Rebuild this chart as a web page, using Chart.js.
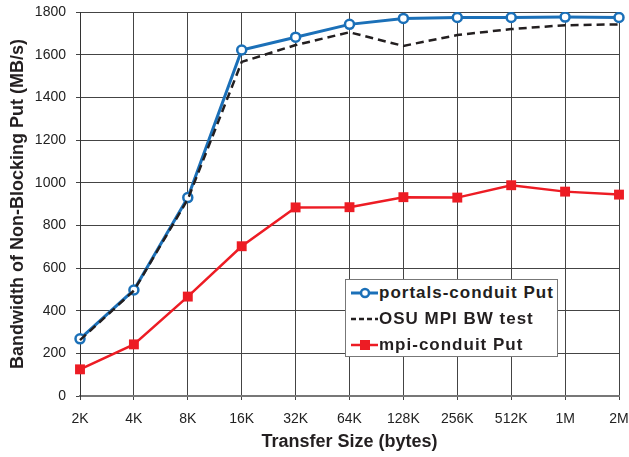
<!DOCTYPE html>
<html>
<head>
<meta charset="utf-8">
<script src="https://cdn.jsdelivr.net/npm/chart.js@4"></script>
<style>
  html, body { margin: 0; padding: 0; background: #fff; }
  #wrap { position: relative; width: 629px; height: 457px; }
  #legend {
    position: absolute; left: 345px; top: 279px; width: 211px; height: 76px;
    border: 1.5px solid #777; background: #fff;
    font: bold 17px "Liberation Sans", Arial, sans-serif; color: #231f20; letter-spacing: 1px;
  }
  .row { position: absolute; left: 4px; height: 26px; display: flex; align-items: center; white-space: nowrap; }
  .row svg { margin-right: 0; }
</style>
</head>
<body>
<div id="wrap">
  <canvas id="bwChart" width="629" height="457"></canvas>
  <div id="legend"></div>
</div>
<script>
// Transfer sizes (x categories)
const sizes = ['2K', '4K', '8K', '16K', '32K', '64K', '128K', '256K', '512K', '1M', '2M'];

// Bandwidth in MB/s
const portalsPut = [268, 497, 930, 1622, 1682, 1742, 1770, 1774, 1774, 1776, 1774];
const osuBw = [262, 494, 922, 1566, 1645, 1705, 1641, 1692, 1720, 1738, 1742];
const mpiPut = [125, 242, 466, 702, 884, 885, 932, 930, 988, 958, 944];

const yMin = 0;
const yMax = 1800;
const yStep = 200;

const BLUE = '#1b70b8';
const RED = '#ed1c24';
const BLACK = '#231f20';
const FONT = '"Liberation Sans", Arial, sans-serif';

const datasets = [
  {
    label: 'portals-conduit Put',
    data: portalsPut,
    borderColor: BLUE,
    borderWidth: 3,
    pointStyle: 'circle',
    pointRadius: 4.5,
    pointBorderWidth: 2.5,
    pointBackgroundColor: '#fff',
    pointBorderColor: BLUE,
    order: 1
  },
  {
    label: 'OSU MPI BW test',
    data: osuBw,
    borderColor: BLACK,
    borderWidth: 2.5,
    borderDash: [8, 5],
    pointRadius: 0,
    order: 0
  },
  {
    label: 'mpi-conduit Put',
    data: mpiPut,
    borderColor: RED,
    borderWidth: 2.5,
    pointStyle: 'rect',
    pointRadius: 7,
    pointBorderWidth: 0,
    pointBackgroundColor: RED,
    pointBorderColor: RED,
    order: 2
  }
];

function initChart() {
  const ctx = document.getElementById('bwChart').getContext('2d');
  return new Chart(ctx, {
    type: 'line',
    data: { labels: sizes, datasets: datasets },
    options: {
      responsive: false,
      animation: false,
      layout: { autoPadding: false, padding: { left: 0, right: 10, top: 12, bottom: 0 } },
      elements: { line: { tension: 0 } },
      plugins: { legend: { display: false }, tooltip: { enabled: false } },
      scales: {
        x: {
          type: 'category',
          offset: false,
          grid: { color: '#444', lineWidth: 1, tickLength: 4 },
          border: { color: '#777', width: 2 },
          ticks: { color: '#222', font: { family: FONT, size: 14 }, padding: 11, maxRotation: 0, autoSkip: false },
          title: {
            display: true,
            text: 'Transfer Size (bytes)',
            color: BLACK,
            font: { family: FONT, size: 18, weight: 'bold' },
            padding: { top: 0, bottom: 4 }
          },
          afterFit: (scale) => {
            scale.height = 61;
            scale.paddingLeft = 0;
            scale.paddingRight = 0;
          }
        },
        y: {
          min: yMin,
          max: yMax,
          grid: { color: '#444', lineWidth: 1, tickLength: 4 },
          border: { color: '#333', width: 1 },
          ticks: {
            stepSize: yStep,
            color: '#222',
            font: { family: FONT, size: 14 },
            padding: 10,
            callback: (value) => String(value)
          },
          title: {
            display: true,
            text: 'Bandwidth of Non-Blocking Put (MB/s)',
            color: BLACK,
            font: { family: FONT, size: 18, weight: 'bold' },
            padding: { top: 7, bottom: 0 }
          },
          afterFit: (scale) => {
            scale.width = 80;
            scale.paddingTop = 0;
            scale.paddingBottom = 0;
          }
        }
      }
    }
  });
}

function sampleSvg(ds) {
  let line = `<line x1="1" y1="7" x2="28" y2="7" stroke="${ds.borderColor}" stroke-width="${ds.borderWidth}"` +
    (ds.borderDash ? ` stroke-dasharray="5 3"` : '') + '/>';
  let marker = '';
  if (ds.pointStyle === 'circle') {
    marker = `<circle cx="15" cy="7" r="4" fill="#fff" stroke="${ds.borderColor}" stroke-width="2.5"/>`;
  } else if (ds.pointStyle === 'rect') {
    marker = `<rect x="10" y="2" width="10" height="10" fill="${ds.borderColor}"/>`;
  }
  return `<svg width="29" height="14">${line}${marker}</svg>`;
}

function buildLegend() {
  const legend = document.getElementById('legend');
  const tops = [0, 26, 52];
  datasets.forEach((ds, i) => {
    const row = document.createElement('div');
    row.className = 'row';
    row.style.top = tops[i] + 'px';
    row.innerHTML = sampleSvg(ds) + `<span>${ds.label}</span>`;
    legend.appendChild(row);
  });
}

initChart();
buildLegend();
</script>
</body>
</html>
